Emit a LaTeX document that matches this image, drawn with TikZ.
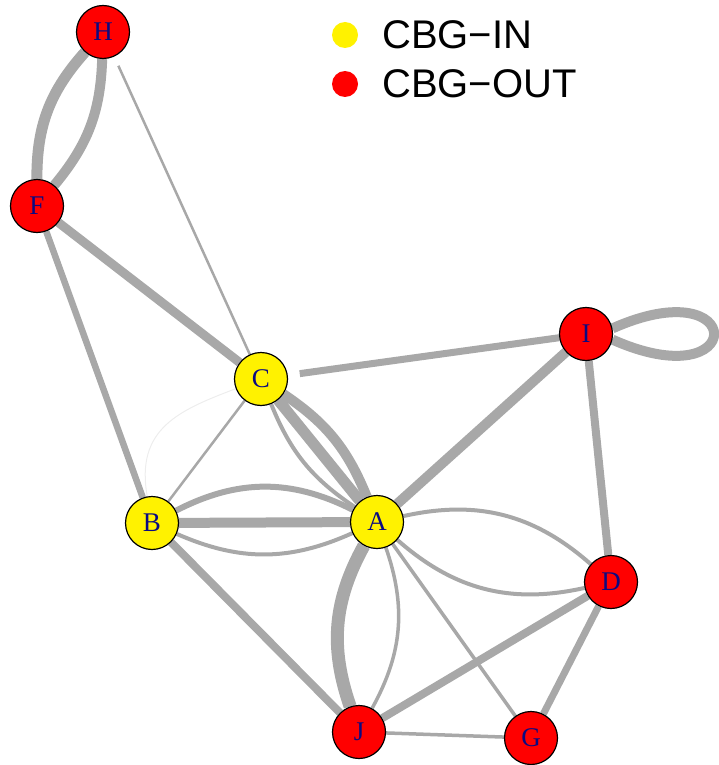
\documentclass[tikz,border=0pt]{standalone}
\usepackage{fontspec}
\setmainfont{Liberation Serif}
\newfontfamily\legendfont{Liberation Sans}
\usetikzlibrary{backgrounds}
\definecolor{edgegray}{RGB}{168,168,168}
\definecolor{labelblue}{RGB}{10,10,130}
\tikzset{
  cbgin/.style={circle, draw=black, line width=1.2pt, fill=yellow, minimum size=53pt, inner sep=0pt, text=labelblue, font=\fontsize{27}{27}\selectfont},
  cbgout/.style={cbgin, fill=red},
  link/.style={draw=edgegray},
  legenddot/.style={circle, minimum size=26pt, inner sep=0pt},
  legendtext/.style={anchor=base west, inner sep=0pt, font=\legendfont\fontsize{40}{40}\selectfont},
}
\begin{document}
\begin{tikzpicture}[x=1pt,y=1pt]
        \useasboundingbox (0,0) rectangle (718,-765);
        
        %Nodes
        %CBG-IN
        \node[cbgin] (C) at (261,-379) {C};
        \node[cbgin] (B) at (152,-523) {B};
        \node[cbgin] (A) at (377,-522) {A};
        
        %CBG-OUT
        \node[cbgout] (H) at (103,-32) {H};
        \node[cbgout] (F) at (37,-206) {F};
        \node[cbgout] (I) at (586,-334) {I};
        \node[cbgout] (D) at (611,-582) {D};
        \node[cbgout] (J) at (359,-732) {J};
        \node[cbgout] (G) at (531,-738) {G};
        
        %Edges
        \begin{scope}[on background layer]
        %top left
        \draw[link, line width=11] (H) to[bend right=21] (F);
        \draw[link, line width=10] (H) to[bend left=19] (F);
        \draw[link, line width=2.5, shorten <=10pt] (H) -- (C);
        \draw[link, line width=9] (F) -- (C);
        \draw[link, line width=6.5] (F) -- (B);
        
        %around C
        \draw[link, line width=7, shorten <=12pt] (C) -- (I);
        \draw[link, line width=2.5] (C) -- (B);
        \draw[black!7, line width=1] (C) .. controls (180,-410) and (135,-428) .. (B);
        \draw[link, line width=11] (C) -- (A);
        \draw[link, line width=10] (C) to[bend left=17] (A);
        \draw[link, line width=4] (C) to[bend right=17] (A);
        
        %B to A
        \draw[link, line width=10] (B) -- (A);
        \draw[link, line width=6] (B) to[bend left=27] (A);
        \draw[link, line width=4] (B) to[bend right=24] (A);
        
        %right side
        \draw[link, line width=10] (A) -- (I);
        \draw[link, line width=10] (I.12) .. controls (748,-268) and (748,-400) .. (I.-12);
        \draw[link, line width=8] (I) -- (D);
        \draw[link, line width=4] (A) to[bend left=27] (D);
        \draw[link, line width=4] (A) to[bend right=27] (D);
        
        %bottom
        \draw[link, line width=13] (A) to[bend right=24] (J);
        \draw[link, line width=3.5] (A) to[bend left=24] (J);
        \draw[link, line width=3.5] (A) -- (G);
        \draw[link, line width=8] (B) -- (J);
        \draw[link, line width=8] (J) -- (D);
        \draw[link, line width=7] (D) -- (G);
        \draw[link, line width=3.5] (J) -- (G);
        \end{scope}
        
        %Legend
        \node[legenddot, fill=yellow] (indot) at (345,-35) {};
        \node[legenddot, fill=red] (outdot) at (345,-84) {};
        \node[legendtext] (intext) at (382,-49) {CBG−IN};
        \node[legendtext] (outtext) at (382,-98) {CBG−OUT};
        
\end{tikzpicture}
\end{document}
